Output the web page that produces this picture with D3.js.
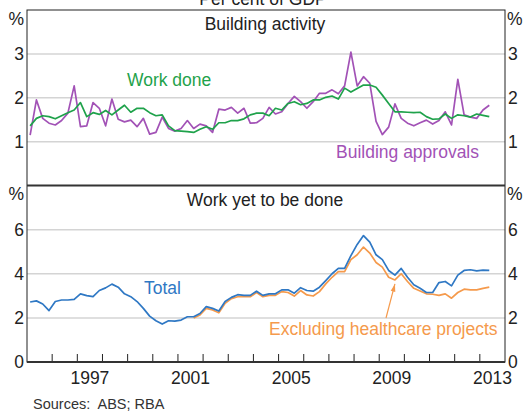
<!DOCTYPE html>
<html>
<head>
<meta charset="utf-8">
<script src="https://cdn.jsdelivr.net/npm/d3@7"></script>
<style>
  body { margin: 0; background: #fff; }
  svg text { font-family: Arial, "Liberation Sans", sans-serif; fill: #222; }
</style>
</head>
<body>
<div id="chart"></div>
<script>
// quarterly data, 1995 Q1 to 2013 Q2, per cent of GDP
const startYear = 1995;

const workDone = [1.36, 1.53, 1.59, 1.57, 1.52, 1.59, 1.66, 1.72, 1.89, 1.57,
  1.66, 1.62, 1.71, 1.61, 1.72, 1.83, 1.67, 1.76, 1.76, 1.66,
  1.59, 1.61, 1.36, 1.25, 1.24, 1.23, 1.21, 1.28, 1.34, 1.28,
  1.43, 1.43, 1.48, 1.48, 1.52, 1.61, 1.65, 1.65, 1.59, 1.76,
  1.72, 1.87, 1.91, 1.84, 1.87, 1.95, 1.95, 2.01, 2.04, 1.97,
  2.22, 2.13, 2.21, 2.29, 2.29, 2.24, 2.06, 1.87, 1.68, 1.68,
  1.67, 1.66, 1.67, 1.57, 1.51, 1.52, 1.63, 1.53, 1.61, 1.59,
  1.56, 1.63, 1.60, 1.57];

const approvals = [1.15, 1.95, 1.53, 1.42, 1.38, 1.48, 1.65, 2.27, 1.34, 1.36,
  1.89, 1.76, 1.36, 1.97, 1.51, 1.45, 1.49, 1.34, 1.53, 1.17,
  1.21, 1.56, 1.30, 1.24, 1.30, 1.48, 1.30, 1.40, 1.36, 1.21,
  1.74, 1.72, 1.78, 1.65, 1.76, 1.42, 1.43, 1.53, 1.78, 1.63,
  1.68, 1.87, 2.03, 1.91, 1.76, 1.91, 2.10, 2.10, 2.18, 2.09,
  2.27, 3.04, 2.27, 2.48, 2.33, 1.46, 1.16, 1.33, 1.86, 1.53,
  1.42, 1.36, 1.43, 1.49, 1.40, 1.48, 1.68, 1.38, 2.42, 1.61,
  1.56, 1.53, 1.72, 1.83];

const yetTotal = [2.72, 2.77, 2.63, 2.33, 2.74, 2.81, 2.81, 2.84, 3.09, 3.01,
  2.96, 3.24, 3.36, 3.53, 3.39, 3.09, 2.96, 2.74, 2.43, 2.08,
  1.87, 1.72, 1.87, 1.85, 1.90, 2.05, 2.05, 2.20, 2.51, 2.43,
  2.31, 2.74, 2.93, 3.05, 3.02, 3.02, 3.21, 3.02, 3.09, 3.09,
  3.27, 3.27, 3.12, 3.37, 3.24, 3.21, 3.39, 3.69, 4.00, 4.24,
  4.24, 4.82, 5.33, 5.73, 5.43, 4.86, 4.64, 4.15, 3.94, 4.24,
  3.84, 3.50, 3.34, 3.15, 3.15, 3.60, 3.65, 3.45, 3.94, 4.15,
  4.18, 4.13, 4.16, 4.15];

// excluding healthcare starts at 2001 Q3 (index 26)
const exHealthStart = 26;
const yetExHealth = [1.99, 2.13, 2.43, 2.36, 2.23, 2.66, 2.87, 2.96, 2.96, 2.96,
  3.15, 2.96, 3.02, 3.02, 3.19, 3.15, 2.99, 3.24, 3.04, 2.99,
  3.19, 3.54, 3.84, 4.10, 4.10, 4.64, 4.86, 5.21, 4.94, 4.51,
  4.30, 3.84, 3.72, 4.00, 3.65, 3.34, 3.22, 3.09, 3.07, 3.02,
  3.09, 2.89, 3.15, 3.30, 3.27, 3.27, 3.34, 3.39];

const topTicks = [1, 2, 3];
const bottomTicks = [0, 2, 4, 6];
const yearLabels = [1997, 2001, 2005, 2009, 2013];

const width = 523, height = 411;
const plotL = 27, plotR = 505, plotT = 10, plotMid = 185.5, plotB = 362;
const fontSize = '17.5px';

const svg = d3.select('#chart')
  .append('svg')
  .attr('width', width)
  .attr('height', height);

const x = d3.scaleLinear().domain([1995, 2014]).range([plotL, plotR]);
const yTop = d3.scaleLinear().domain([0, 4]).range([plotMid, plotT]);
const yBot = d3.scaleLinear().domain([0, 8]).range([plotB, plotMid]);

const qx = i => x(startYear + i * 0.25 + 0.125);

// gridlines
function grid(y, ticks) {
  svg.append('g')
    .selectAll('line')
    .data(ticks.filter(t => t !== 0))
    .enter()
    .append('line')
    .attr('x1', plotL).attr('x2', plotR)
    .attr('y1', d => y(d)).attr('y2', d => y(d))
    .attr('stroke', '#d4d4d4')
    .attr('stroke-width', 1.5);
}
grid(yTop, topTicks);
grid(yBot, bottomTicks);

// y tick labels both sides
function yLabels(y, ticks, pctY) {
  const g = svg.append('g').style('font-size', fontSize);
  g.selectAll('text.l').data(ticks).enter().append('text')
    .attr('x', plotL - 3).attr('y', d => y(d))
    .attr('dy', '0.36em').attr('text-anchor', 'end')
    .text(d => d);
  g.selectAll('text.r').data(ticks).enter().append('text')
    .attr('x', plotR + 3).attr('y', d => y(d))
    .attr('dy', '0.36em').attr('text-anchor', 'start')
    .text(d => d);
  g.append('text').attr('x', plotL - 3).attr('y', pctY)
    .attr('text-anchor', 'end').text('%');
  g.append('text').attr('x', plotR + 2).attr('y', pctY)
    .attr('text-anchor', 'start').text('%');
}
yLabels(yTop, topTicks, 25);
yLabels(yBot, bottomTicks, 200);

// year ticks on the bottom axis, pointing inward
const years = d3.range(1996, 2014);
svg.append('g')
  .selectAll('line')
  .data(years)
  .enter()
  .append('line')
  .attr('x1', d => x(d)).attr('x2', d => x(d))
  .attr('y1', plotB).attr('y2', plotB - 8)
  .attr('stroke', '#222')
  .attr('stroke-width', 1);

svg.append('g')
  .style('font-size', fontSize)
  .selectAll('text')
  .data(yearLabels)
  .enter()
  .append('text')
  .attr('x', d => x(d + 0.5))
  .attr('y', 384)
  .attr('text-anchor', 'middle')
  .text(d => d);

// lines
const lineTop = d3.line().x((d, i) => qx(i)).y(d => yTop(d));
const lineBot = d3.line().x((d, i) => qx(i)).y(d => yBot(d));
const lineEx = d3.line().x((d, i) => qx(i + exHealthStart)).y(d => yBot(d));

svg.append('path').datum(approvals)
  .attr('d', lineTop).attr('fill', 'none')
  .attr('stroke', '#a252b6').attr('stroke-width', 1.7)
  .attr('stroke-linejoin', 'round');
svg.append('path').datum(workDone)
  .attr('d', lineTop).attr('fill', 'none')
  .attr('stroke', '#1fa24b').attr('stroke-width', 1.7)
  .attr('stroke-linejoin', 'round');
svg.append('path').datum(yetExHealth)
  .attr('d', lineEx).attr('fill', 'none')
  .attr('stroke', '#f59a4c').attr('stroke-width', 1.7)
  .attr('stroke-linejoin', 'round');
svg.append('path').datum(yetTotal)
  .attr('d', lineBot).attr('fill', 'none')
  .attr('stroke', '#2f78c4').attr('stroke-width', 1.7)
  .attr('stroke-linejoin', 'round');

// frame
svg.append('rect')
  .attr('x', plotL).attr('y', plotT)
  .attr('width', plotR - plotL).attr('height', plotB - plotT)
  .attr('fill', 'none').attr('stroke', '#222').attr('stroke-width', 1);
svg.append('line')
  .attr('x1', plotL).attr('x2', plotR).attr('y1', plotMid).attr('y2', plotMid)
  .attr('stroke', '#333').attr('stroke-width', 2);
svg.append('line')
  .attr('x1', plotL).attr('x2', plotR).attr('y1', plotB).attr('y2', plotB)
  .attr('stroke', '#333').attr('stroke-width', 2);

// titles and labels (the page title is clipped at the top, as in the original)
const labels = svg.append('g').style('font-size', fontSize);
labels.append('text').attr('x', 263).attr('y', 5)
  .attr('text-anchor', 'middle').text('Per cent of GDP');
labels.append('text').attr('x', 265).attr('y', 30)
  .attr('text-anchor', 'middle').text('Building activity');
labels.append('text').attr('x', 265).attr('y', 206)
  .attr('text-anchor', 'middle').text('Work yet to be done');
labels.append('text').attr('x', 127).attr('y', 86)
  .style('fill', '#1fa24b').text('Work done');
labels.append('text').attr('x', 336).attr('y', 158)
  .style('fill', '#a252b6').text('Building approvals');
labels.append('text').attr('x', 144).attr('y', 294)
  .style('fill', '#2f78c4').text('Total');
labels.append('text').attr('x', 269).attr('y', 335)
  .style('fill', '#f59a4c').text('Excluding healthcare projects');

// arrow to the ex-healthcare line
const ax0 = 386, ay0 = 318;
const ax1 = qx(58), ay1 = yBot(yetExHealth[58 - exHealthStart]) + 4;
svg.append('line')
  .attr('x1', ax0).attr('y1', ay0).attr('x2', ax1).attr('y2', ay1)
  .attr('stroke', '#f59a4c').attr('stroke-width', 1.2);
const ang = Math.atan2(ay1 - ay0, ax1 - ax0);
const head = [[ax1, ay1],
  [ax1 - 8 * Math.cos(ang - 0.3), ay1 - 8 * Math.sin(ang - 0.3)],
  [ax1 - 8 * Math.cos(ang + 0.3), ay1 - 8 * Math.sin(ang + 0.3)]];
svg.append('polygon')
  .attr('points', head.map(p => p.join(',')).join(' '))
  .attr('fill', '#f59a4c');

svg.append('text').attr('x', 33).attr('y', 409)
  .style('font-size', '14.5px').style('fill', '#333')
  .attr('xml:space', 'preserve')
  .text('Sources:  ABS; RBA');
</script>
</body>
</html>
